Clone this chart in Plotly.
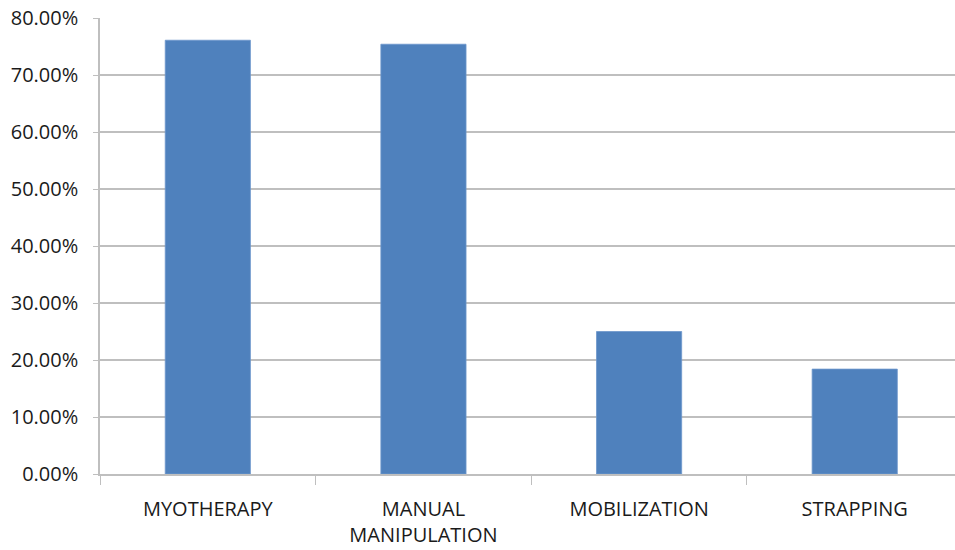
import plotly.graph_objects as go

# Share of respondents using each treatment approach
categories = ["MYOTHERAPY", "MANUAL<br>MANIPULATION", "MOBILIZATION", "STRAPPING"]
values = [76.1, 75.4, 25.0, 18.4]  # percent
y_ticks = [0, 10, 20, 30, 40, 50, 60, 70, 80]
y_tick_labels = [f"{v:.2f}%" for v in y_ticks]

BAR = "#4f81bd"
GRID = "#bfbfbf"
FONT = dict(family="Open Sans, sans-serif", size=20, color="#1a1a1a")

fig = go.Figure(
    go.Bar(
        x=categories,
        y=values,
        marker=dict(color=BAR, line=dict(color="#6d97cb", width=0.8)),
        width=0.395,
    )
)

fig.update_layout(
    width=955,
    height=550,
    margin=dict(l=100, r=0, t=18, b=76),
    paper_bgcolor="white",
    plot_bgcolor="white",
    showlegend=False,
    font=FONT,
)

fig.update_xaxes(
    type="category",
    range=[-0.5, 3.465],
    showgrid=False,
    showline=True,
    linecolor=GRID,
    linewidth=1.5,
    ticks="outside",
    tickson="boundaries",
    ticklen=9,
    tickwidth=1.2,
    tickcolor=GRID,
    ticklabelstandoff=16,
    tickfont=FONT,
)

fig.update_yaxes(
    range=[0, 80],
    tickvals=y_ticks,
    ticktext=y_tick_labels,
    showgrid=True,
    gridcolor=GRID,
    gridwidth=1.5,
    showline=True,
    linecolor=GRID,
    linewidth=1.5,
    ticks="outside",
    ticklen=5,
    tickwidth=1.2,
    tickcolor=GRID,
    ticklabelstandoff=11,
    zeroline=False,
    tickfont=FONT,
)

fig.write_html("out.html")
